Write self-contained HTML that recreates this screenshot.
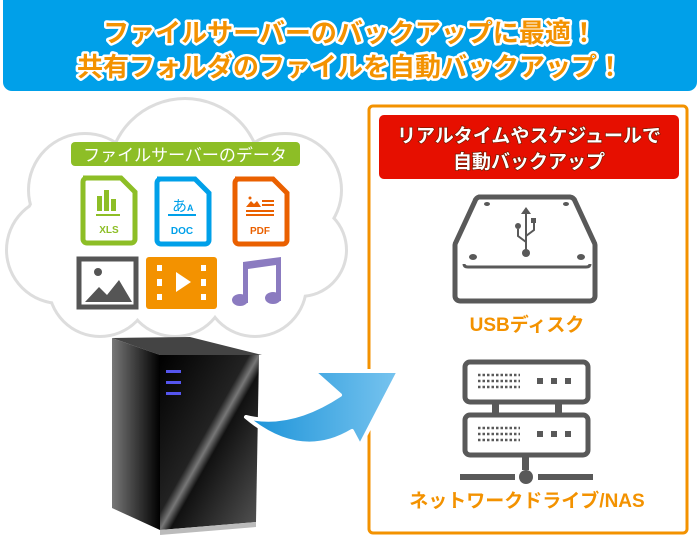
<!DOCTYPE html>
<html><head><meta charset="utf-8"><style>
html,body{margin:0;padding:0;background:#fff;width:700px;height:541px;overflow:hidden}
svg{display:block}
text{font-family:"Liberation Sans","Noto Sans CJK JP",sans-serif;font-weight:bold}
</style></head><body>
<svg width="700" height="541" viewBox="0 0 700 541" xmlns="http://www.w3.org/2000/svg">
<defs>
<linearGradient id="arr" x1="0" y1="0" x2="1" y2="0"><stop offset="0" stop-color="#1a92d8"/><stop offset="1" stop-color="#78c4ef"/></linearGradient>
<linearGradient id="srvF" x1="0" y1="0" x2="1" y2="1"><stop offset="0" stop-color="#000"/><stop offset=".45" stop-color="#222"/><stop offset=".5" stop-color="#777"/><stop offset=".55" stop-color="#111"/><stop offset="1" stop-color="#555"/></linearGradient>
<linearGradient id="srvL" x1="0" y1="0" x2="1" y2="0"><stop offset="0" stop-color="#777"/><stop offset="1" stop-color="#000"/></linearGradient>
</defs>
<rect x="3" y="-10" width="694" height="101" rx="9" fill="#00a0e9"/>
<g font-size="26" text-anchor="middle" fill="#f39200" stroke="#fff" stroke-width="5" paint-order="stroke" stroke-linejoin="round">
<text x="350" y="42">ファイルサーバーのバックアップに最適！</text>
<text x="350" y="76">共有フォルダのファイルを自動バックアップ！</text>
</g>
<g fill="#fff" stroke="#ddd" stroke-width="6">
<circle cx="185" cy="175" r="75"/><circle cx="85" cy="190" r="55"/><circle cx="285" cy="190" r="55"/>
<circle cx="60" cy="250" r="52"/><circle cx="300" cy="250" r="45"/><circle cx="100" cy="285" r="50"/>
<circle cx="255" cy="285" r="50"/><circle cx="175" cy="285" r="50"/><ellipse cx="175" cy="230" rx="150" ry="85"/>
</g>
<g fill="#fff">
<circle cx="185" cy="175" r="75"/><circle cx="85" cy="190" r="55"/><circle cx="285" cy="190" r="55"/>
<circle cx="60" cy="250" r="52"/><circle cx="300" cy="250" r="45"/><circle cx="100" cy="285" r="50"/>
<circle cx="255" cy="285" r="50"/><circle cx="175" cy="285" r="50"/><ellipse cx="175" cy="230" rx="150" ry="85"/>
</g>
<rect x="71" y="142" width="229" height="24" rx="4" fill="#8dbe26"/>
<text x="185" y="161" font-size="17" fill="#fff" text-anchor="middle" style="font-weight:normal">ファイルサーバーのデータ</text>
<g stroke-width="5" fill="#fff">
<path d="M83 178 h38 l14 14 v47 a4 4 0 0 1 -4 4 h-44 a4 4 0 0 1 -4 -4 v-57 a4 4 0 0 1 4 -4z" stroke="#8dbe26"/>
<path d="M157 179 h38 l14 14 v47 a4 4 0 0 1 -4 4 h-44 a4 4 0 0 1 -4 -4 v-57 a4 4 0 0 1 4 -4z" stroke="#00a0e9"/>
<path d="M235 179 h38 l14 14 v47 a4 4 0 0 1 -4 4 h-44 a4 4 0 0 1 -4 -4 v-57 a4 4 0 0 1 4 -4z" stroke="#ea6000"/>
</g>
<g fill="#8dbe26"><rect x="97" y="196" width="5" height="15"/><rect x="104" y="190" width="5" height="21"/><rect x="111" y="199" width="5" height="12"/><rect x="96" y="214" width="24" height="2"/></g>
<text x="109" y="233" font-size="10" fill="#8dbe26" text-anchor="middle">XLS</text>
<text x="172" y="211" font-size="15" fill="#00a0e9" style="font-weight:normal">あ</text><text x="187" y="211" font-size="9" fill="#00a0e9">A</text>
<rect x="168" y="214" width="28" height="2" fill="#00a0e9"/>
<text x="182" y="234" font-size="10" fill="#00a0e9" text-anchor="middle">DOC</text>
<g fill="#ea6000"><path d="M246 207 l5 -6 3 3 3 -3 4 6z"/><circle cx="250" cy="198" r="1.5"/><rect x="262" y="200" width="12" height="2"/><rect x="262" y="204" width="12" height="2"/><rect x="246" y="210" width="28" height="2"/><rect x="246" y="214" width="28" height="2"/></g>
<text x="260" y="234" font-size="10" fill="#ea6000" text-anchor="middle">PDF</text>
<rect x="79" y="259" width="57" height="48" fill="none" stroke="#555" stroke-width="5"/>
<circle cx="98" cy="272" r="4" fill="#555"/>
<path d="M85 302 l14 -15 8 8 12 -15 13 22z" fill="#555"/>
<rect x="146" y="257" width="71" height="52" rx="3" fill="#f39200"/>
<g fill="#fff"><rect x="157" y="265" width="5" height="6"/><rect x="157" y="279" width="5" height="7"/><rect x="157" y="294" width="5" height="6"/><rect x="201" y="265" width="5" height="6"/><rect x="201" y="279" width="5" height="7"/><rect x="201" y="294" width="5" height="6"/><path d="M176 272 l15 10 -15 10z"/></g>
<g fill="#8b7bc0"><path d="M243 262 l38 -5 v44 h-5 v-36 l-28 4 v34 h-5z"/><ellipse cx="240" cy="300" rx="8" ry="6"/><ellipse cx="273" cy="298" rx="8" ry="6"/></g>
<path d="M112 338 L190 337 L262 355 L160 355z" fill="#444"/>
<path d="M112 338 L160 355 L160 530 L112 508z" fill="url(#srvL)"/>
<path d="M160 355 L259 355 L256 522 L160 530z" fill="url(#srvF)"/>
<path d="M160 530 L256 522 L256 527 L160 535z" fill="#bbb"/>
<g fill="#5555ee"><rect x="166" y="370" width="15" height="3"/><rect x="166" y="381" width="15" height="3"/><rect x="166" y="392" width="15" height="3"/></g>
<rect x="369" y="106" width="318" height="427" rx="4" fill="#fff" stroke="#f39200" stroke-width="3"/>
<rect x="379" y="115" width="300" height="64" rx="5" fill="#e60f00"/>
<g font-size="19" text-anchor="middle" fill="#fff" stroke="#7a1a00" stroke-width="1.5" paint-order="stroke">
<text x="529" y="142">リアルタイムやスケジュールで</text>
<text x="529" y="168">自動バックアップ</text>
</g>
<path d="M484 197 h86 a6 6 0 0 1 5 4 l19 41 a6 6 0 0 1 1 3 v51 a5 5 0 0 1 -5 5 h-130 a5 5 0 0 1 -5 -5 v-51 a6 6 0 0 1 1 -3 l19 -41 a6 6 0 0 1 4 -4z" fill="none" stroke="#595959" stroke-width="5"/>
<path d="M464 264 q0 3 4 3 h118 q4 0 4 -3" fill="none" stroke="#595959" stroke-width="3"/>
<g fill="#595959"><ellipse cx="487" cy="204" rx="3" ry="2"/><ellipse cx="566" cy="204" rx="3" ry="2"/><ellipse cx="473" cy="257" rx="4" ry="3"/><ellipse cx="581" cy="257" rx="4" ry="3"/><circle cx="526" cy="253" r="4"/><rect x="525" y="212" width="2" height="40"/><path d="M521 214 l5 -7 5 7z"/><circle cx="518" cy="226" r="3"/><rect x="531" y="218" width="5" height="5"/><path d="M518 229 v7 l8 6 M534 223 v7 l-8 6" stroke="#595959" stroke-width="2" fill="none"/></g>
<text x="527" y="331" font-size="19" fill="#f39200" text-anchor="middle">USBディスク</text>
<g fill="none" stroke="#595959" stroke-width="5"><rect x="465" y="362" width="123" height="40" rx="5"/><rect x="465" y="415" width="123" height="40" rx="5"/></g>
<g fill="#595959"><rect x="492" y="402" width="7" height="13"/><rect x="555" y="402" width="7" height="13"/><rect x="522" y="457" width="7" height="13"/><rect x="460" y="474" width="55" height="6"/><rect x="538" y="474" width="55" height="6"/><circle cx="526" cy="477" r="7"/>
<rect x="537" y="378" width="6" height="6"/><rect x="551" y="378" width="6" height="6"/><rect x="565" y="378" width="6" height="6"/>
<rect x="537" y="431" width="6" height="6"/><rect x="551" y="431" width="6" height="6"/><rect x="565" y="431" width="6" height="6"/></g>
<g stroke="#595959" stroke-width="2.5" stroke-dasharray="2.5 2"><path d="M478 375 h42 M478 381 h42 M478 387 h42 M478 428 h42 M478 434 h42 M478 440 h42"/></g>
<text x="527" y="507" font-size="19" fill="#f39200" text-anchor="middle">ネットワークドライブ/NAS</text>
<path d="M246 417 Q290 428 340 395 L313 371 L399 371 L360 446 L352 431 Q300 462 246 417z" fill="url(#arr)" stroke="#fff" stroke-width="4" stroke-linejoin="round"/>
</svg>
</body></html>
